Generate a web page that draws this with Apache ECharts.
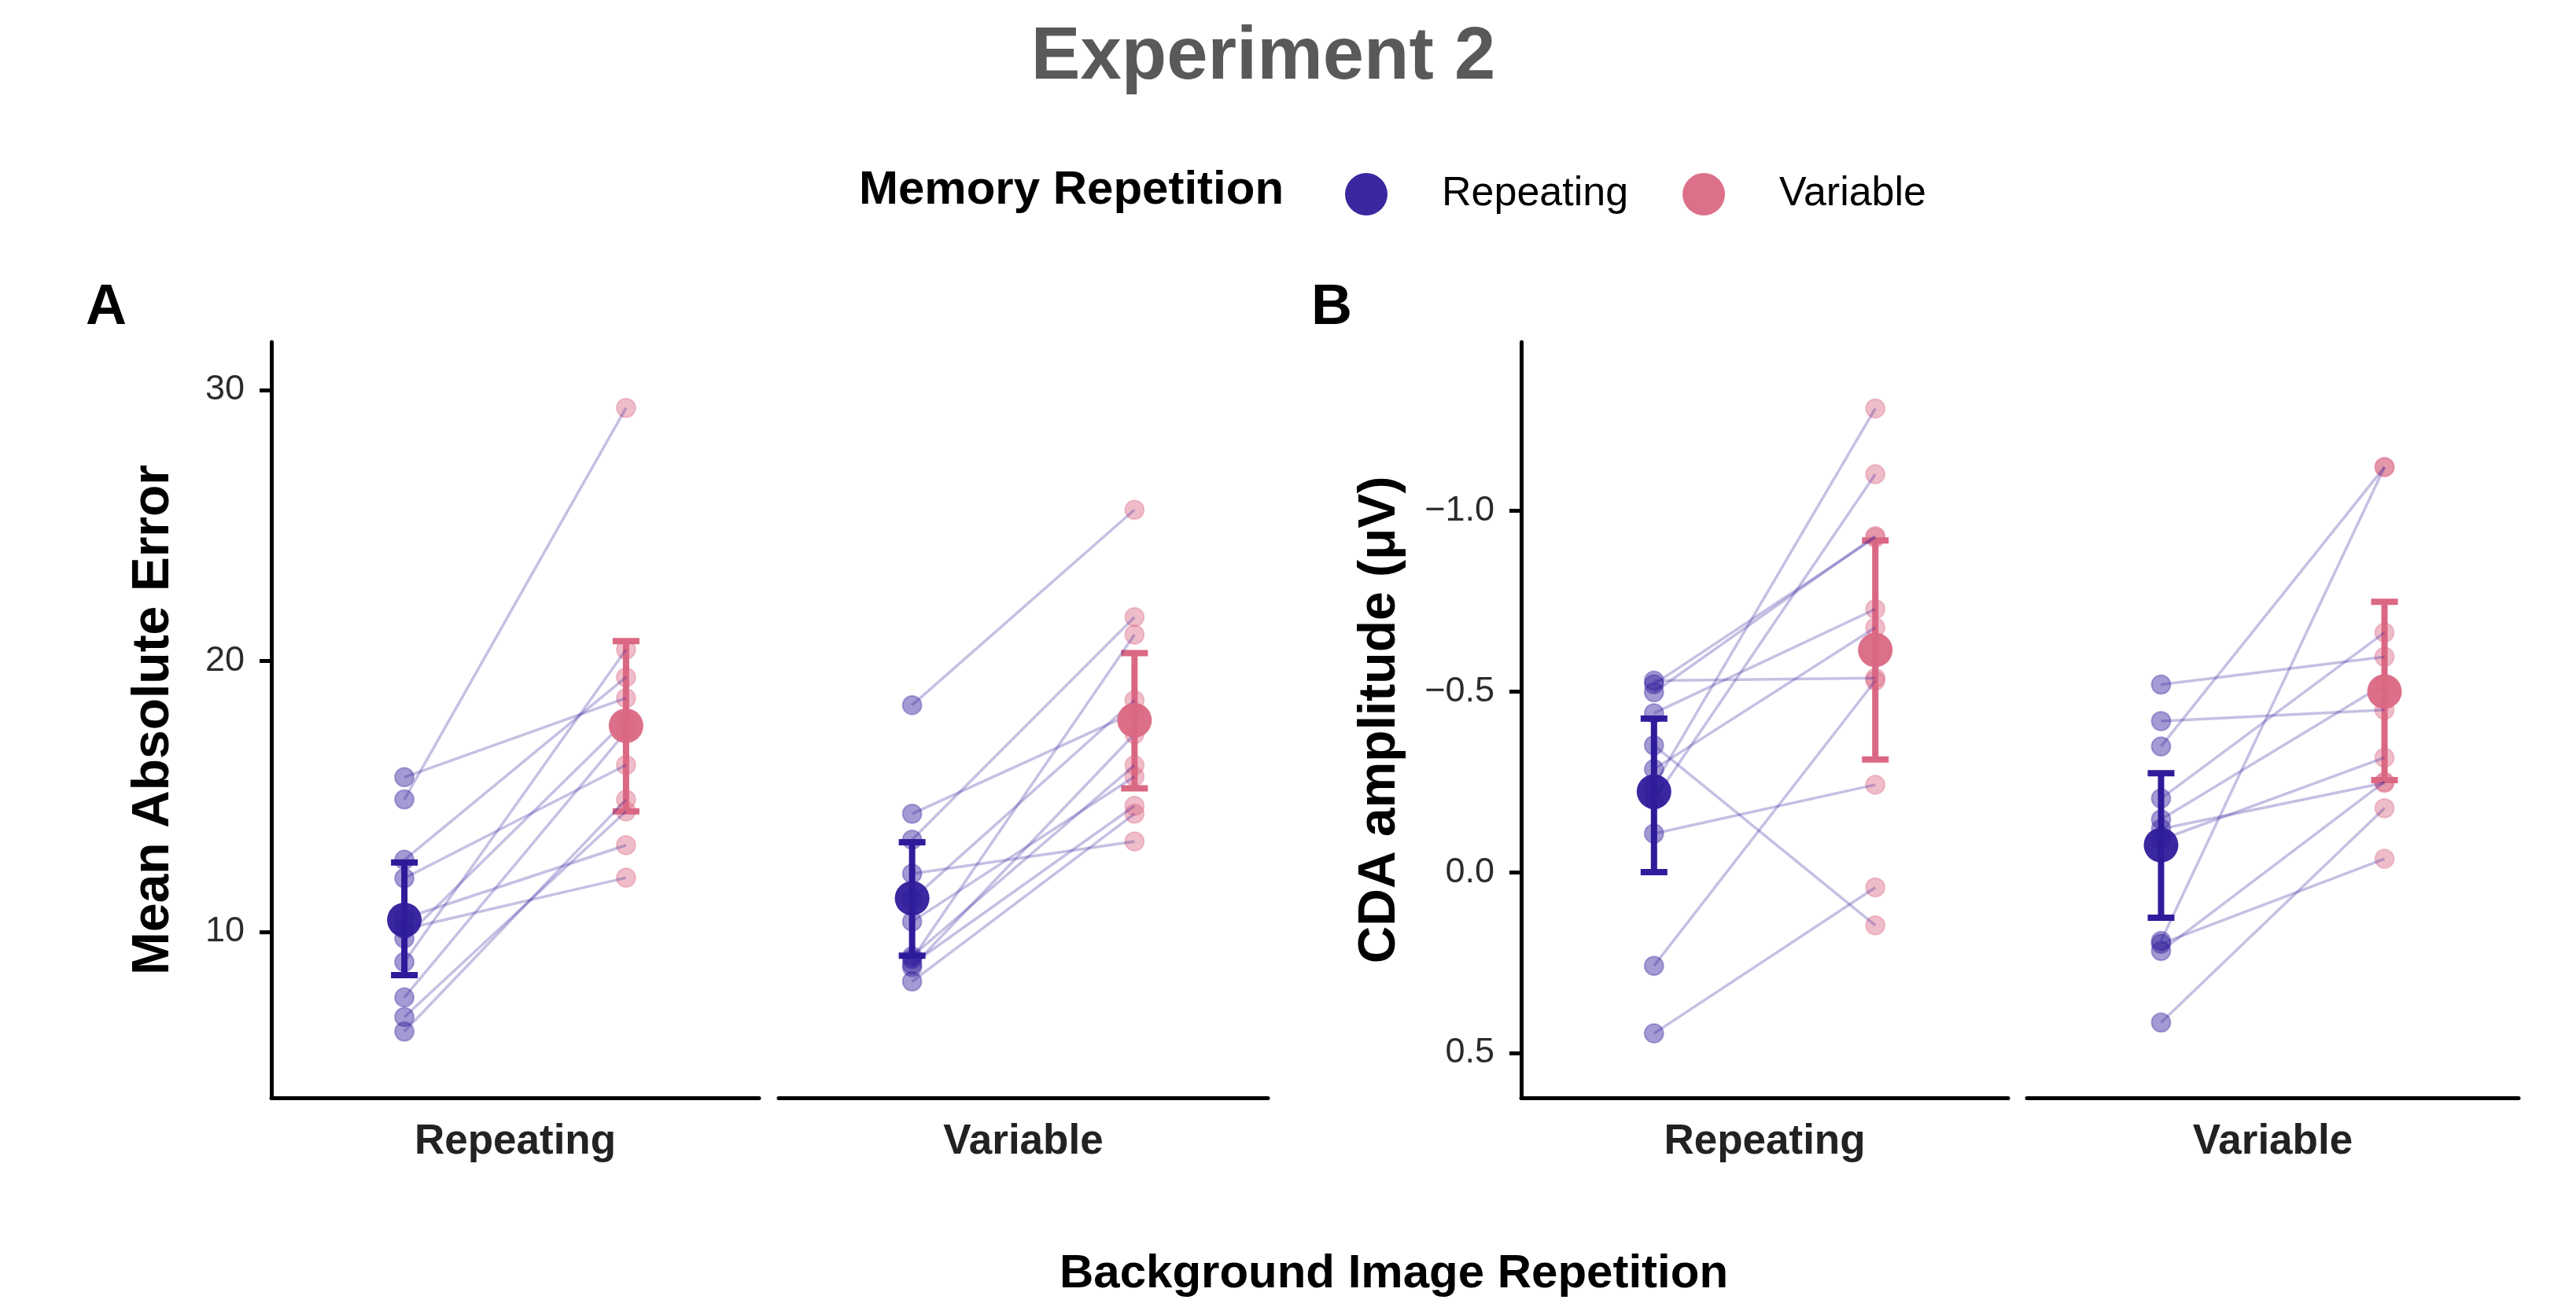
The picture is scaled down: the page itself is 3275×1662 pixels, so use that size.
<!DOCTYPE html>
<html>
<head>
<meta charset="utf-8">
<title>Experiment 2</title>
<script src="https://cdn.jsdelivr.net/npm/echarts@6/dist/echarts.min.js"></script>
<style>
  html, body { margin: 0; padding: 0; background: #fff; }
  #chart { width: 3275px; height: 1662px; }
</style>
</head>
<body>
<div id="chart"></div>
<script>
// levels of the two factors
var memLevels = ['Repeating', 'Variable'];   // colour / x inside a facet
var bgLevels = ['Repeating', 'Variable'];    // facets

// Panel A - mean absolute error, one entry per participant
var maeBgRepMemRep = [15.71, 14.89, 12.66, 11.98, 10.5, 10.1, 9.76, 8.89, 7.58, 6.86, 6.32];
var maeBgRepMemVar = [18.63, 29.34, 19.40, 16.16, 13.2, 12.0, 17.8, 20.42, 17.4, 14.45, 14.88];
var maeBgVarMemRep = [18.37, 14.36, 13.4, 12.15, 11.2, 10.38, 9.1, 9.0, 8.81, 8.7, 8.17];
var maeBgVarMemVar = [25.58, 18.1, 21.62, 13.34, 18.55, 15.73, 16.15, 20.97, 14.65, 17.3, 14.36];

// Panel B - CDA amplitude, one entry per participant
var cdaBgRepMemRep = [-0.530, -0.520, -0.498, -0.440, -0.351, -0.285, -0.240, -0.200, -0.107, 0.259, 0.446];
var cdaBgRepMemVar = [-0.537, -0.926, -0.930, -0.728, 0.147, -0.677, -1.283, -1.101, -0.242, -0.530, 0.042];
var cdaBgVarMemRep = [-0.519, -0.418, -0.348, -0.204, -0.146, -0.120, -0.090, 0.190, 0.198, 0.218, 0.416];
var cdaBgVarMemVar = [-0.596, -0.449, -1.121, -0.663, -0.520, -0.247, -0.317, -1.121, -0.037, -0.250, -0.177];

// means and error bars, [bg Repeating, bg Variable]
var maeMeanRep = [10.44, 11.24], maeMeanVar = [17.61, 17.81];
var maeLowRep = [8.40, 9.12], maeHighRep = [12.56, 13.31];
var maeLowVar = [14.45, 15.30], maeHighVar = [20.73, 20.29];
var cdaMeanRep = [-0.223, -0.075], cdaMeanVar = [-0.615, -0.500];
var cdaLowRep = [-0.425, -0.274], cdaHighRep = [0.000, 0.126];
var cdaLowVar = [-0.918, -0.748], cdaHighVar = [-0.312, -0.255];

var maeTicks = [10, 20, 30];
var cdaTicks = [-1.0, -0.5, 0.0, 0.5];

var BLUE = '#2E1C9A', PINK = '#DB6883';
var FONT = 'Liberation Sans, Arial, sans-serif';

var myChart = echarts.init(document.getElementById('chart'));

var facets = [
    {left: 345, width: 620, panel: 'A', k: 0, rep: maeBgRepMemRep, vr: maeBgRepMemVar},
    {left: 990, width: 622, panel: 'A', k: 1, rep: maeBgVarMemRep, vr: maeBgVarMemVar},
    {left: 1934, width: 619, panel: 'B', k: 0, rep: cdaBgRepMemRep, vr: cdaBgRepMemVar},
    {left: 2577, width: 625, panel: 'B', k: 1, rep: cdaBgVarMemRep, vr: cdaBgVarMemVar}
];

function renderPair(params, api) {
    var a = api.coord([1, api.value(0)]);
    var b = api.coord([2, api.value(1)]);
    return {
        type: 'line',
        shape: {x1: a[0], y1: a[1], x2: b[0], y2: b[1]},
        style: {stroke: 'rgba(46,28,154,0.28)', lineWidth: 3.5}
    };
}

function makeErr(color) {
    return function (params, api) {
        var x = api.value(0);
        var lo = api.coord([x, api.value(1)]);
        var hi = api.coord([x, api.value(2)]);
        var h = 17;
        var st = {stroke: color, lineWidth: 8};
        return {
            type: 'group',
            children: [
                {type: 'line', shape: {x1: lo[0], y1: lo[1], x2: hi[0], y2: hi[1]}, style: st},
                {type: 'line', shape: {x1: lo[0] - h, y1: lo[1], x2: lo[0] + h, y2: lo[1]}, style: st},
                {type: 'line', shape: {x1: hi[0] - h, y1: hi[1], x2: hi[0] + h, y2: hi[1]}, style: st}
            ]
        };
    };
}

var grids = [], xAxes = [], yAxes = [], series = [];

facets.forEach(function (f, i) {
    var isA = f.panel === 'A';
    var first = f.k === 0;
    grids.push({left: f.left, width: f.width, top: 435, height: 961});

    xAxes.push({
        gridIndex: i, type: 'value', min: 0.4, max: 2.6,
        axisLine: {show: true, onZero: false, lineStyle: {color: '#000', width: 5}},
        axisTick: {show: false}, axisLabel: {show: false}, splitLine: {show: false},
        name: bgLevels[f.k], nameLocation: 'middle', nameGap: 30,
        nameTextStyle: {fontSize: 53, fontWeight: 'bold', color: '#222', fontFamily: FONT}
    });

    var y = {
        gridIndex: i, type: 'value',
        min: isA ? 3.875 : -1.4667,
        max: isA ? 31.77 : 0.6242,
        inverse: !isA,
        show: first,
        splitLine: {show: false},
        axisLine: {show: true, onZero: false, lineStyle: {color: '#000', width: 5}},
        axisTick: {show: true, length: 15, customValues: isA ? maeTicks : cdaTicks,
            lineStyle: {color: '#000', width: 5}},
        axisLabel: {
            customValues: isA ? maeTicks : cdaTicks,
            fontSize: 45, color: '#2b2b2b', margin: 34, fontFamily: FONT,
            formatter: function (v) {
                return isA ? String(v) : v.toFixed(1).replace('-', '\u2212');
            }
        }
    };
    if (first) {
        y.name = isA ? 'Mean Absolute Error' : 'CDA amplitude (\u03bcV)';
        y.nameLocation = 'middle';
        y.nameGap = isA ? 116 : 146;
        y.nameTextStyle = {fontSize: 66, fontWeight: 'bold', color: '#000', fontFamily: FONT};
    }
    yAxes.push(y);

    var meanRep = isA ? maeMeanRep : cdaMeanRep;
    var meanVar = isA ? maeMeanVar : cdaMeanVar;
    var lowRep = isA ? maeLowRep : cdaLowRep, highRep = isA ? maeHighRep : cdaHighRep;
    var lowVar = isA ? maeLowVar : cdaLowVar, highVar = isA ? maeHighVar : cdaHighVar;

    // error bars
    series.push({
        type: 'custom', xAxisIndex: i, yAxisIndex: i, renderItem: makeErr(BLUE),
        data: [[1, lowRep[f.k], highRep[f.k]]], z: 2, silent: true
    });
    series.push({
        type: 'custom', xAxisIndex: i, yAxisIndex: i, renderItem: makeErr(PINK),
        data: [[2, lowVar[f.k], highVar[f.k]]], z: 2, silent: true
    });

    // individual points
    series.push({
        name: 'pts-rep', type: 'scatter', xAxisIndex: i, yAxisIndex: i,
        symbolSize: 24, z: 3, silent: true,
        itemStyle: {color: 'rgba(46,28,154,0.55)', borderColor: 'rgba(46,28,154,0.4)', borderWidth: 2},
        data: f.rep.map(function (v) { return [1, v]; })
    });
    series.push({
        name: 'pts-var', type: 'scatter', xAxisIndex: i, yAxisIndex: i,
        symbolSize: 24, z: 3, silent: true,
        itemStyle: {color: 'rgba(219,104,131,0.55)', borderColor: 'rgba(219,104,131,0.4)', borderWidth: 2},
        data: f.vr.map(function (v) { return [2, v]; })
    });

    // participant lines
    series.push({
        type: 'custom', xAxisIndex: i, yAxisIndex: i, renderItem: renderPair, z: 4, silent: true,
        data: f.rep.map(function (v, j) { return [v, f.vr[j]]; })
    });

    // means
    series.push({
        name: memLevels[0], type: 'scatter', xAxisIndex: i, yAxisIndex: i,
        symbolSize: 44, z: 5, itemStyle: {color: BLUE, opacity: 0.95},
        data: [[1, meanRep[f.k]]]
    });
    series.push({
        name: memLevels[1], type: 'scatter', xAxisIndex: i, yAxisIndex: i,
        symbolSize: 44, z: 5, itemStyle: {color: PINK, opacity: 0.95},
        data: [[2, meanVar[f.k]]]
    });
});

var option = {
    animation: false,
    backgroundColor: '#fff',
    textStyle: {fontFamily: FONT},
    legend: {
        data: memLevels,
        left: 1705, top: 215,
        icon: 'circle', itemWidth: 54, itemHeight: 54, itemGap: 69,
        selectedMode: false,
        textStyle: {fontSize: 52, color: '#000', fontFamily: FONT, padding: [0, 0, 0, 64]}
    },
    graphic: [
        {type: 'text', x: 1606, y: 74, style: {text: 'Experiment 2', font: 'bold 94px ' + FONT, fill: '#595959', align: 'center', verticalAlign: 'middle'}},
        {type: 'text', x: 1092, y: 242, style: {text: 'Memory Repetition', font: 'bold 60px ' + FONT, fill: '#000', align: 'left', verticalAlign: 'middle'}},
        {type: 'text', x: 109, y: 392, style: {text: 'A', font: 'bold 72px ' + FONT, fill: '#000', align: 'left', verticalAlign: 'middle'}},
        {type: 'text', x: 1667, y: 392, style: {text: 'B', font: 'bold 72px ' + FONT, fill: '#000', align: 'left', verticalAlign: 'middle'}},
        {type: 'text', x: 1772, y: 1620, style: {text: 'Background Image Repetition', font: 'bold 60px ' + FONT, fill: '#000', align: 'center', verticalAlign: 'middle'}}
    ],
    grid: grids,
    xAxis: xAxes,
    yAxis: yAxes,
    series: series
};
myChart.setOption(option);
</script>
</body>
</html>
